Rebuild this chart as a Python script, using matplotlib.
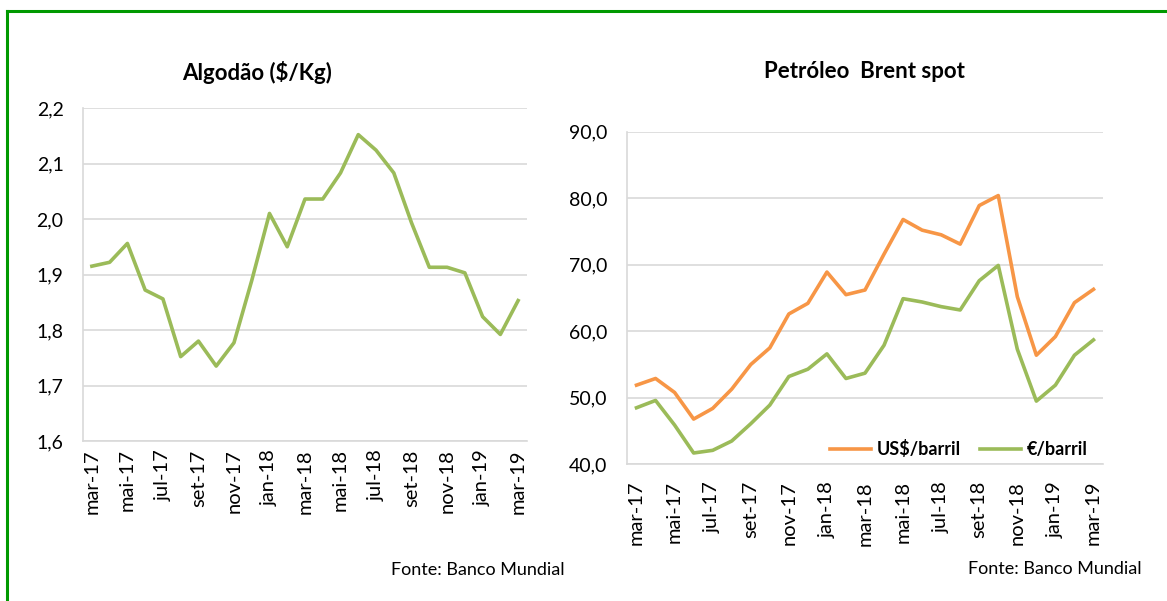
import matplotlib.pyplot as plt
from matplotlib.lines import Line2D

plt.rcParams['font.family'] = ['Lato', 'DejaVu Sans']

months = ['mar-17', 'abr-17', 'mai-17', 'jun-17', 'jul-17', 'ago-17', 'set-17',
          'out-17', 'nov-17', 'dez-17', 'jan-18', 'fev-18', 'mar-18', 'abr-18',
          'mai-18', 'jun-18', 'jul-18', 'ago-18', 'set-18', 'out-18', 'nov-18',
          'dez-18', 'jan-19', 'fev-19', 'mar-19']

algodao = [1.915, 1.922, 1.956, 1.872, 1.856, 1.752, 1.780, 1.735, 1.777, 1.889,
           2.010, 1.950, 2.036, 2.036, 2.083, 2.152, 2.124, 2.083, 1.993, 1.913,
           1.913, 1.903, 1.824, 1.792, 1.853]

brent_usd = [51.9, 52.9, 50.8, 46.8, 48.4, 51.3, 55.0, 57.5, 62.6, 64.2, 68.9,
             65.5, 66.2, 71.6, 76.8, 75.2, 74.5, 73.1, 78.9, 80.4, 65.2, 56.4,
             59.2, 64.3, 66.3]

brent_eur = [48.5, 49.6, 45.9, 41.7, 42.1, 43.5, 46.1, 48.9, 53.2, 54.3, 56.6,
             52.9, 53.7, 57.9, 64.9, 64.4, 63.7, 63.2, 67.6, 69.9, 57.3, 49.5,
             51.9, 56.4, 58.7]

green = '#9BBB59'
orange = '#F79646'
grid_c = '#d9d9d9'

fig = plt.figure(figsize=(11.67, 6.01), dpi=100)

# green frame (only top and left visible in the reference)
fig.add_artist(Line2D([7/1167, 7/1167], [0, 1 - 10.5/601], color='#009900', lw=2.2))
fig.add_artist(Line2D([7/1167, 1], [1 - 10.5/601, 1 - 10.5/601], color='#009900', lw=2.2))


def style_axes(ax, xpad):
    for s in ['top', 'right']:
        ax.spines[s].set_visible(False)
    for s in ['left', 'bottom']:
        ax.spines[s].set_color(grid_c)
        ax.spines[s].set_linewidth(1.2)
    ax.yaxis.grid(True, color=grid_c, lw=1.2)
    ax.set_axisbelow(True)
    ax.tick_params(length=0)
    ax.tick_params(axis='x', labelsize=14.5, pad=xpad)
    ax.tick_params(axis='y', labelsize=14, pad=14)
    ax.set_xlim(-0.5, len(months) - 0.5)
    ax.set_xticks(range(0, len(months), 2))
    ax.set_xticklabels(months[::2], rotation=90)


x = list(range(len(months)))

# left: algodao
ax1 = fig.add_axes([83/1167, 1 - 441/601, 444/1167, 333/601])
ax1.plot(x, algodao, color=green, lw=2.6)
style_axes(ax1, 6)
ax1.set_ylim(1.6, 2.2)
ax1.set_yticks([1.6, 1.7, 1.8, 1.9, 2.0, 2.1, 2.2])
ax1.set_yticklabels(['1,6', '1,7', '1,8', '1,9', '2,0', '2,1', '2,2'])
fig.text(257/1167, 1 - 72/601, 'Algodão ($/Kg)', ha='center', va='center',
         fontsize=16, fontweight='bold')
fig.text(565/1167, 1 - 570/601, 'Fonte: Banco Mundial', ha='right', va='center',
         fontsize=13)

# right: brent
ax2 = fig.add_axes([627/1167, 1 - 464.3/601, 476/1167, 332.6/601])
ax2.plot(x, brent_usd, color=orange, lw=2.6, label='US$/barril')
ax2.plot(x, brent_eur, color=green, lw=2.6, label='€/barril')
style_axes(ax2, 12)
ax2.set_ylim(40, 90)
ax2.set_yticks([40, 50, 60, 70, 80, 90])
ax2.set_yticklabels(['40,0', '50,0', '60,0', '70,0', '80,0', '90,0'])
leg = ax2.legend(loc='lower right', ncol=2, frameon=False, fontsize=13,
                 handlelength=2.3, handletextpad=0.3, columnspacing=1.05,
                 bbox_to_anchor=(1.002, -0.03))
for t in leg.get_texts():
    t.set_fontweight('bold')
fig.text(864/1167, 1 - 72/601, 'Petróleo  Brent spot', ha='center', va='center',
         fontsize=16, fontweight='bold')
fig.text(1142/1167, 1 - 569/601, 'Fonte: Banco Mundial', ha='right', va='center',
         fontsize=13)

plt.savefig('out.png', dpi=100)
